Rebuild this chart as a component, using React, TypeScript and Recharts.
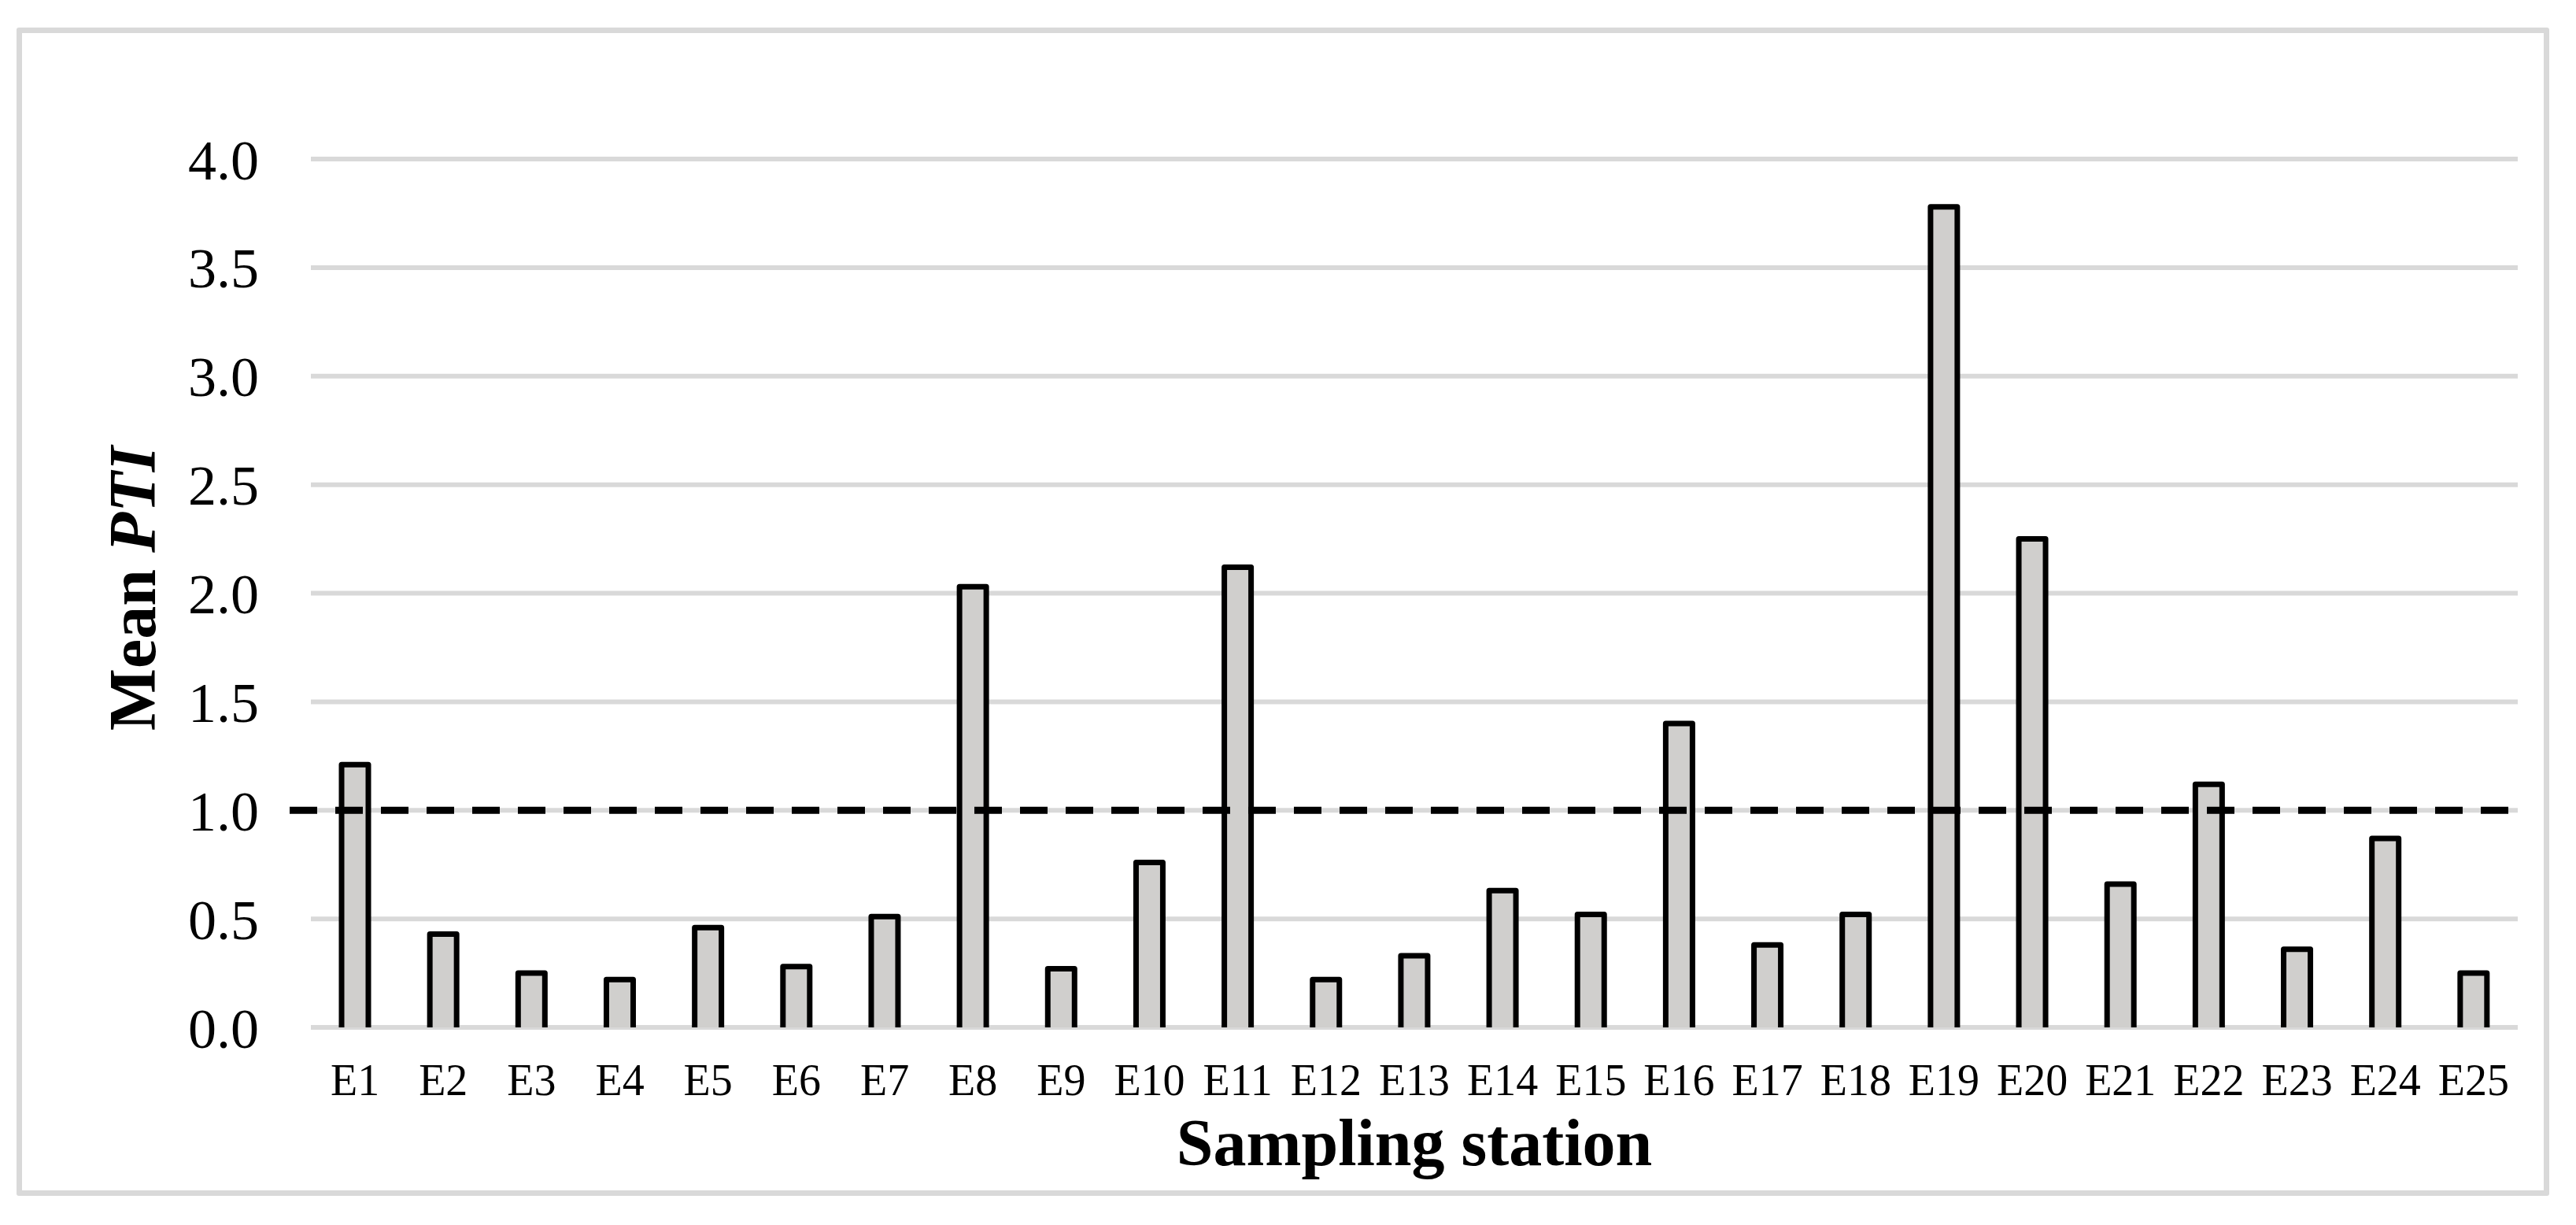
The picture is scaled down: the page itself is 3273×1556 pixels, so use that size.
import React from 'react';
import { BarChart, Bar, XAxis, YAxis, CartesianGrid, ReferenceLine } from 'recharts';

const stations = [
  'E1', 'E2', 'E3', 'E4', 'E5', 'E6', 'E7', 'E8', 'E9', 'E10',
  'E11', 'E12', 'E13', 'E14', 'E15', 'E16', 'E17', 'E18', 'E19', 'E20',
  'E21', 'E22', 'E23', 'E24', 'E25',
];
const meanPTI = [
  1.21, 0.43, 0.25, 0.22, 0.46, 0.28, 0.51, 2.03, 0.27, 0.76,
  2.12, 0.22, 0.33, 0.63, 0.52, 1.40, 0.38, 0.52, 3.78, 2.25,
  0.66, 1.12, 0.36, 0.87, 0.25,
];
const yTicks = [0, 0.5, 1, 1.5, 2, 2.5, 3, 3.5, 4];
const threshold = 1.0;
const xTitle = 'Sampling station';
const yTitleMain = 'Mean ';
const yTitleItalic = 'PTI';

const data = stations.map((s, i) => ({ station: s, pti: meanPTI[i] }));

const FONT = '"Liberation Serif", "Times New Roman", Times, serif';

function BarShape(props: any) {
  const { x, y, width, height } = props;
  if (!(height > 0)) return <g />;
  return (
    <g>
      <rect x={x} y={y} width={width} height={height} fill="#d0cfcd" />
      <path
        d={`M${x},${y + height} L${x},${y} L${x + width},${y} L${x + width},${y + height}`}
        fill="none"
        stroke="#000"
        strokeWidth={7}
        strokeLinejoin="round"
      />
    </g>
  );
}

function DashedShape(props: any) {
  const { x1, y1, x2, y2 } = props;
  return (
    <line
      x1={x1 - 27}
      y1={y1}
      x2={x2 + 3}
      y2={y2}
      stroke="#000"
      strokeWidth={9}
      strokeDasharray="35 23"
    />
  );
}

function YTitle(props: any) {
  const vb = props.viewBox || { x: 0, y: 202, width: 395, height: 1103 };
  const cx = vb.x + 197;
  const cy = vb.y + vb.height / 2 - 6;
  return (
    <text
      x={cx}
      y={cy}
      transform={`rotate(-90, ${cx}, ${cy})`}
      textAnchor="middle"
      fontFamily={FONT}
      fontSize={84}
      fontWeight="bold"
      fill="#000"
      style={{ whiteSpace: 'pre' }}
    >
      <tspan>{yTitleMain}</tspan>
      <tspan fontStyle="italic">{yTitleItalic}</tspan>
    </text>
  );
}

export default function App() {
  return (
    <div style={{ position: 'absolute', left: 0, top: 0, width: 3273, height: 1556, background: '#fff' }}>
      <BarChart
        width={3273}
        height={1556}
        data={data}
        margin={{ top: 202, right: 74, bottom: 0, left: 0 }}
      >
        <CartesianGrid vertical={false} stroke="#d9d9d9" strokeWidth={6} />
        <XAxis
          dataKey="station"
          interval={0}
          axisLine={false}
          tickLine={false}
          tickSize={0}
          tickMargin={46}
          height={251}
          tick={{ fontSize: 56, fill: '#000', fontFamily: FONT }}
          label={{
            value: xTitle,
            position: 'insideBottom',
            offset: 76,
            fontSize: 84,
            fontWeight: 'bold',
            fill: '#000',
            fontFamily: FONT,
          }}
        />
        <YAxis
          domain={[0, 4]}
          ticks={yTicks}
          interval={0}
          tickFormatter={(v: number) => v.toFixed(1)}
          axisLine={false}
          tickLine={false}
          tickSize={0}
          tickMargin={66}
          width={395}
          tick={{ fontSize: 72, fill: '#000', fontFamily: FONT }}
          label={<YTitle />}
        />
        <Bar dataKey="pti" barSize={34} shape={BarShape} isAnimationActive={false} />
        <ReferenceLine y={threshold} shape={DashedShape} ifOverflow="visible" />
      </BarChart>
      <div
        style={{
          position: 'absolute',
          left: 21,
          top: 35,
          width: 3218,
          height: 1484,
          border: '7px solid #d9d9d9',
          boxSizing: 'border-box',
          borderRadius: 3,
          pointerEvents: 'none',
        }}
      />
    </div>
  );
}
